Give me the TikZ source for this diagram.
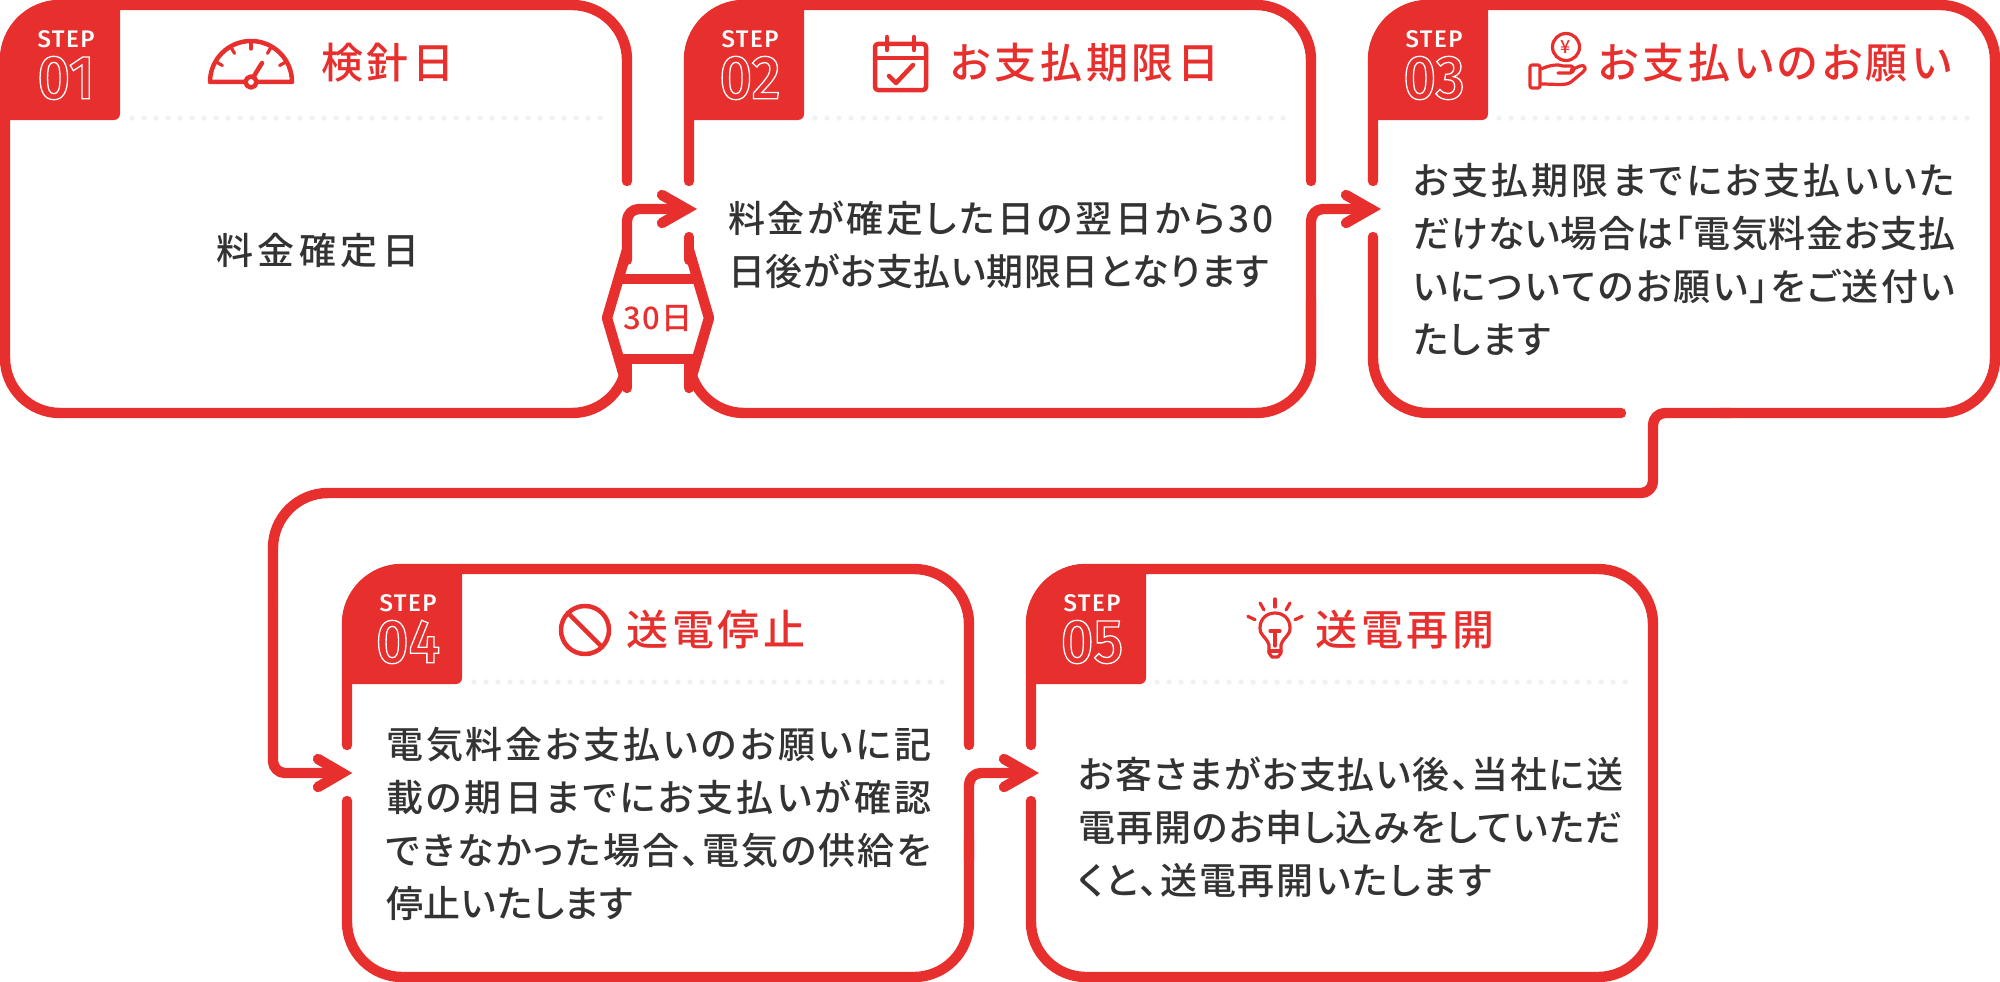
\documentclass[tikz,border=0pt]{standalone}
\usepackage{fontspec}
\newfontfamily\jpbody[RawFeature={+palt}]{Noto Sans CJK JP Medium}
\newfontfamily\jptitle[LetterSpace=9,RawFeature={+palt}]{Noto Sans CJK JP Medium}
\newfontfamily\jphex[LetterSpace=4]{Noto Sans CJK JP Medium}
\newfontfamily\stepfont[LetterSpace=6]{Fira Sans Medium}
\newfontfamily\numfont[FakeStretch=0.92]{Fira Sans Medium}
\definecolor{rd}{HTML}{E7302E}
\definecolor{ink}{HTML}{333333}
\definecolor{dotc}{HTML}{F1F1F1}
\newcommand{\outl}[1]{\special{pdf:code 1 Tr 1.3 w 1 1 1 RG}#1\special{pdf:code 0 Tr}}
% one justified line of text: the characters are spread over the given width
\def\jstep#1{\ifx#1\relax\else\hskip 0pt plus 1fil #1\expandafter\jstep\fi}
\def\jfirst#1{#1\jstep}
\newcommand{\jline}[2][545pt]{\hbox to #1{\jfirst#2\relax}}
\newcommand{\badge}[4]{%
  \fill[rd] (#2,#3+120) [rounded corners=60pt] -- (#2,#3) [sharp corners] -- (#2+120,#3) [rounded corners=6pt] -- (#2+120,#3+120) [sharp corners] -- (#2,#3+120) -- cycle;
  \node[steplab] (step#1) at (#2+66,#3+39) {STEP};
  \node[numlab] (num#1) at (#2+66,#3+78) {\outl{#4}};
}
\tikzset{
  frame/.style={draw=rd,line width=10.4pt,line cap=round,line join=round,rounded corners=55pt},
  link/.style={draw=rd,line width=10.4pt,line cap=round,line join=round,rounded corners=12pt},
  chevron/.style={draw=rd,line width=10.4pt,line cap=round,line join=miter,miter limit=4},
  dots/.style={draw=dotc,line width=5.5pt,line cap=round,dash pattern=on 0pt off 12pt},
  steplab/.style={text=white,inner sep=0pt,font=\stepfont\fontsize{24}{24}\selectfont},
  numlab/.style={inner sep=0pt,font=\numfont\fontsize{62}{62}\selectfont,text=rd},
  title/.style={text=rd,inner sep=0pt,font=\jptitle\fontsize{42}{42}\selectfont},
  body/.style={text=ink,inner sep=0pt,anchor=west,align=left,font=\jpbody\fontsize{37}{53}\selectfont},
  icon/.style={draw=rd,line width=4.5pt,line cap=round,line join=round},
  thin icon/.style={draw=rd,line width=3.2pt,line cap=round,line join=round},
}
\begin{document}
\begin{tikzpicture}[x=1pt,y=-1pt]
\useasboundingbox (0,0) rectangle (2000,982);
% frames
\draw[frame] (627,181) -- (627,5) -- (5,5) -- (5,413) -- (627,413) -- (627,358);
\draw[frame] (689,181) -- (689,5) -- (1311,5) -- (1311,181);
\draw[frame] (1311,300) -- (1311,413) -- (689,413) -- (689,358);
\draw[frame] (1373,181) -- (1373,5) -- (1995,5) -- (1995,413) -- (1720,413);
\draw[frame] (1373,237) -- (1373,413) -- (1621,413);
\draw[frame] (347,745) -- (347,569) -- (969,569) -- (969,745);
\draw[frame] (347,801) -- (347,977) -- (969,977) -- (969,840);
\draw[frame] (1031,745) -- (1031,569) -- (1653,569) -- (1653,977) -- (1031,977) -- (1031,801);
% dotted rules
\draw[dots] (132,118) -- (608,118);
\draw[dots] (815,118) -- (1292,118);
\draw[dots] (1499,118) -- (1975,118);
\draw[dots] (474,682) -- (950,682);
\draw[dots] (1157,682) -- (1634,682);
% badges
\badge{a}{0}{0}{01}
\badge{b}{684}{0}{02}
\badge{c}{1368}{0}{03}
\badge{d}{342}{564}{04}
\badge{e}{1026}{564}{05}
% hexagon with the 30-day link
\coordinate (hexL) at (607,318);
\coordinate (hexR) at (709,318);
\fill[white] (607,318) -- (618,279) -- (698,279) -- (709,318) -- (698,359) -- (618,359) -- cycle;
\draw[rd,line width=10.4pt,line join=round] (627,250) -- (hexL) -- (627,386);
\draw[rd,line width=10.4pt,line join=round] (689,250) -- (hexR) -- (689,386);
\draw[rd,line width=10.4pt] (617,279) -- (699,279);
\draw[rd,line width=10.4pt] (617,359) -- (699,359);
\draw[rd,line width=10.4pt,line cap=round] (627,360) -- (627,388);
\draw[rd,line width=10.4pt,line cap=round] (689,360) -- (689,388);
\draw[rd,line width=10.4pt,line cap=round] (689,237) -- (689,260);
\node[text=rd,inner sep=0pt,font=\jphex\fontsize{31}{31}\selectfont] (days) at (658,319) {30日};
% links
\coordinate (t1) at (686.5,209);
\coordinate (t2) at (1370.5,209);
\coordinate (t3) at (342,773);
\coordinate (t4) at (1028.5,773);
\draw[link] (627,260) -- (627,209) -- (t1);
\draw[chevron] (662,195) -- (t1) -- (662,223);
\draw[link] (1311,358) -- (1311,209) -- (t2);
\draw[chevron] (1346,195) -- (t2) -- (1346,223);
\draw[link] (1730,413) -- (1653,413) -- (1653,493) -- (1000,493);
\draw[frame] (1000,493) -- (273,493) -- (273,600);
\draw[link] (273,600) -- (273,773) -- (t3);
\draw[chevron] (318,759) -- (t3) -- (318,787);
\draw[link] (969,860) -- (969,773) -- (t4);
\draw[chevron] (1004,759) -- (t4) -- (1004,787);
% titles
\node[title] (ta) at (388,63) {検針日};
\node[title] (tb) at (1085,63) {お支払期限日};
\node[title] (tc) at (1775,63) {お支払いのお願い};
\node[title] (td) at (716,630) {送電停止};
\node[title] (te) at (1405,630) {送電再開};
% body
\node[body] (ba) at (216,251) {\jline[203pt]{料金確定日}};
\node[body] (bb) at (728,245) {\jline{料金が確定した日の翌日から30}\\\jline[541pt]{日後がお支払い期限日となります}};
\node[body] (bc) at (1413,260) {\jline[542pt]{お支払期限までにお支払いいた}\\\jline[542pt]{だけない場合は「電気料金お支払}\\\jline[542pt]{いについてのお願い」をご送付い}\\\jline[138pt]{たします}};
\node[body] (bd) at (386,824) {\jline{電気料金お支払いのお願いに記}\\\jline{載の期日までにお支払いが確認}\\\jline{できなかった場合、電気の供給を}\\\jline[247pt]{停止いたします}};
\node[body] (be) at (1078,827) {\jline{お客さまがお支払い後、当社に送}\\\jline{電再開のお申し込みをしていただ}\\\jline[414pt]{くと、送電再開いたします}};
% gauge icon
\draw[icon] (210,82) arc (180:360:41) -- cycle;
\foreach \a in {30,60,90,120,150} \draw[thin icon] ({251+40*cos(\a)},{82-40*sin(\a)}) -- ({251+33*cos(\a)},{82-33*sin(\a)});
\draw[icon] (254,76) -- (262,63);
\draw[icon,fill=white] (251,82) circle[radius=5.5];
% calendar icon
\draw[icon,rounded corners=3pt] (875,44) rectangle (926,90);
\draw[icon] (875,58) -- (926,58);
\draw[icon] (887,37) -- (887,50);
\draw[icon] (914,37) -- (914,50);
\draw[icon] (889,76) -- (896,83) -- (913,65);
% yen hand icon
\draw[thin icon] (1566,47) circle[radius=13.5];
\node[text=rd,inner sep=0pt,font=\jphex\fontsize{18}{18}\selectfont] (yen) at (1566,47) {¥};
\draw[thin icon,rounded corners=2pt] (1530,65) rectangle (1540,88);
\draw[thin icon] (1541,69) .. controls (1550,65) and (1558,64) .. (1563,66) -- (1571,66) .. controls (1575,67) and (1575,72) .. (1570,73) -- (1558,73);
\draw[thin icon] (1571,70) -- (1580,66) .. controls (1585,64) and (1587,69) .. (1583,72) -- (1571,82) .. controls (1566,86) and (1555,84) .. (1541,84);
% prohibition icon
\draw[icon] (585,630) circle[radius=24];
\draw[icon] (568,613) -- (602,647);
% bulb icon
\draw[thin icon] (1269,645) .. controls (1266,636) and (1260,636) .. (1260,628) .. controls (1260,608) and (1290,608) .. (1290,628) .. controls (1290,636) and (1284,636) .. (1281,645) -- (1281,653) -- (1278,657) -- (1272,657) -- (1269,653) -- cycle;
\draw[thin icon] (1270,631) -- (1280,631);
\draw[thin icon] (1275,631) -- (1275,646);
\draw[thin icon] (1269,651) -- (1281,651);
\foreach \a in {90,60,120,25,155} \draw[thin icon] ({1275+22*cos(\a)},{629-22*sin(\a)}) -- ({1275+30*cos(\a)},{629-30*sin(\a)});
\end{tikzpicture}
\end{document}
